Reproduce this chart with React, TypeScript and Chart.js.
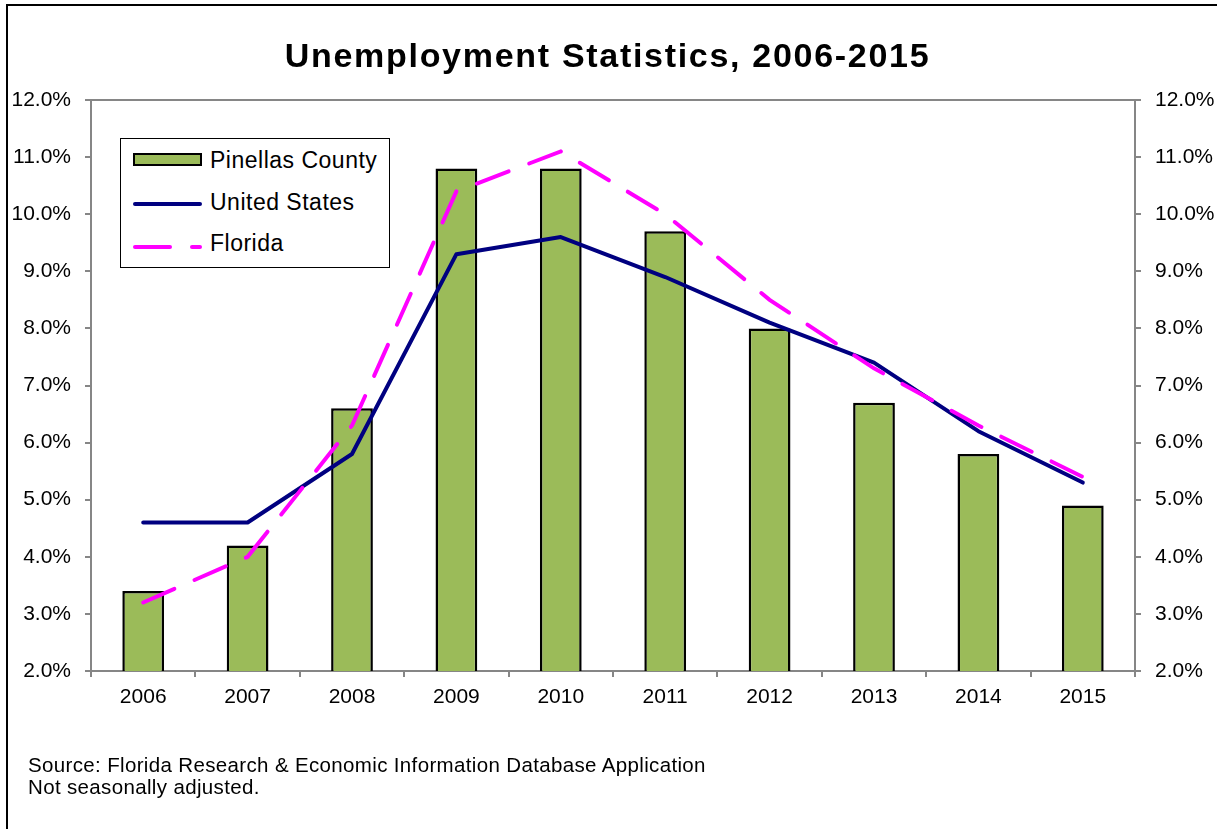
import React, { useEffect, useRef } from 'react';
import { Chart, registerables } from 'chart.js';

Chart.register(...registerables);

// ---- data ----
const years = ['2006', '2007', '2008', '2009', '2010', '2011', '2012', '2013', '2014', '2015'];
const pinellasCounty = [3.4, 4.2, 6.6, 10.8, 10.8, 9.7, 8.0, 6.7, 5.8, 4.9];
const unitedStates = [4.6, 4.6, 5.8, 9.3, 9.6, 8.9, 8.1, 7.4, 6.2, 5.3];
const florida = [3.2, 4.0, 6.3, 10.4, 11.1, 10.0, 8.5, 7.3, 6.3, 5.4];
const yTickLabels = ['2.0%', '3.0%', '4.0%', '5.0%', '6.0%', '7.0%', '8.0%', '9.0%', '10.0%', '11.0%', '12.0%'];
const yMin = 2;
const yMax = 12;

const titleText = 'Unemployment Statistics, 2006-2015';
const legendLabels = ['Pinellas County', 'United States', 'Florida'];
const sourceLines = ['Source: Florida Research & Economic Information Database Application', 'Not seasonally adjusted.'];

const FONT = "'Liberation Sans', Arial, Helvetica, sans-serif";
const AXIS_GRAY = '#868686';
const GREEN = '#9BBB59';
const NAVY = '#000080';
const MAGENTA = '#FF00FF';

const framePlugin = {
  id: 'frame',
  beforeDatasetsDraw(chart: any) {
    const { ctx, chartArea } = chart;
    ctx.save();
    ctx.strokeStyle = AXIS_GRAY;
    ctx.lineWidth = 2;
    ctx.strokeRect(chartArea.left, chartArea.top, chartArea.right - chartArea.left, chartArea.bottom - chartArea.top);
    ctx.restore();
  },
};

function tickLabel(v: any) {
  const i = Math.round(Number(v)) - yMin;
  return yTickLabels[i] ?? '';
}

export default function App() {
  const canvasRef = useRef<HTMLCanvasElement | null>(null);

  useEffect(() => {
    if (!canvasRef.current) return;
    const tickFont = { family: FONT, size: 21 };
    const yAxisCommon = {
      min: yMin,
      max: yMax,
      ticks: { stepSize: 1, padding: 14, color: '#000', font: tickFont, callback: tickLabel },
      grid: { drawOnChartArea: false, drawTicks: true, tickLength: 6, color: AXIS_GRAY, lineWidth: 2 },
      border: { color: AXIS_GRAY, width: 2 },
    };
    const chart = new Chart(canvasRef.current, {
      type: 'bar',
      data: {
        labels: years,
        datasets: [
          {
            type: 'line',
            label: legendLabels[2],
            data: florida,
            borderColor: MAGENTA,
            backgroundColor: MAGENTA,
            borderWidth: 4,
            borderDash: [34, 22],
            borderCapStyle: 'round',
            pointRadius: 0,
            fill: false,
            tension: 0,
            order: 1,
            yAxisID: 'y',
          },
          {
            type: 'line',
            label: legendLabels[1],
            data: unitedStates,
            borderColor: NAVY,
            backgroundColor: NAVY,
            borderWidth: 4,
            borderCapStyle: 'round',
            borderJoinStyle: 'round',
            pointRadius: 0,
            fill: false,
            tension: 0,
            order: 2,
            yAxisID: 'y',
          },
          {
            type: 'bar',
            label: legendLabels[0],
            data: pinellasCounty,
            backgroundColor: GREEN,
            borderColor: '#000',
            borderWidth: 2.5,
            barPercentage: 0.4,
            categoryPercentage: 1,
            order: 3,
            yAxisID: 'y',
          },
        ] as any,
      },
      options: {
        responsive: false,
        animation: false,
        events: [],
        layout: { padding: { top: 100, left: 0, right: 0, bottom: 118 } },
        plugins: {
          legend: { display: false },
          tooltip: { enabled: false },
          title: { display: false },
        },
        scales: {
          x: {
            offset: true,
            grid: { offset: true, drawOnChartArea: false, drawTicks: true, tickLength: 6, color: AXIS_GRAY, lineWidth: 2 },
            border: { color: AXIS_GRAY, width: 2 },
            ticks: { padding: 8, color: '#000', font: tickFont, maxRotation: 0 },
            afterFit: (s: any) => {
              s.height = 40;
            },
          },
          y: {
            position: 'left',
            ...yAxisCommon,
            afterFit: (s: any) => {
              s.width = 91;
            },
          },
          y2: {
            position: 'right',
            ...yAxisCommon,
            afterFit: (s: any) => {
              s.width = 82;
            },
          },
        } as any,
      },
      plugins: [framePlugin],
    });
    return () => chart.destroy();
  }, []);

  return (
    <div style={{ position: 'absolute', left: 0, top: 0, width: 1217, height: 829, overflow: 'hidden', background: '#fff', fontFamily: FONT }}>
      <div style={{ position: 'absolute', left: 6, top: 4, width: 1400, height: 1000, border: '2px solid #000', boxSizing: 'border-box' }} />
      <canvas ref={canvasRef} width={1217} height={829} style={{ position: 'absolute', left: 0, top: 0, width: 1217, height: 829 }} />
      <div style={{ position: 'absolute', left: 1, top: 38, width: 1213, textAlign: 'center', fontSize: 34, lineHeight: '34px', fontWeight: 'bold', letterSpacing: '1.7px', color: '#000', whiteSpace: 'nowrap' }}>
        {titleText}
      </div>
      {/* legend */}
      <div style={{ position: 'absolute', left: 120, top: 138, width: 270, height: 130, border: '1px solid #000', boxSizing: 'border-box', background: '#fff' }} />
      <div style={{ position: 'absolute', left: 133, top: 153, width: 69, height: 13, border: '2px solid #000', background: GREEN, boxSizing: 'border-box' }} />
      <div style={{ position: 'absolute', left: 133, top: 202, width: 69, height: 4, borderRadius: 2, background: NAVY }} />
      <div style={{ position: 'absolute', left: 133, top: 245, width: 39, height: 4, borderRadius: 2, background: MAGENTA }} />
      <div style={{ position: 'absolute', left: 190, top: 245, width: 12, height: 4, borderRadius: 2, background: MAGENTA }} />
      {legendLabels.map((t, i) => (
        <div key={t} style={{ position: 'absolute', left: 210, top: 149 + i * 41.7, fontSize: 23, lineHeight: '23px', letterSpacing: '0.5px', color: '#000', whiteSpace: 'nowrap' }}>
          {t}
        </div>
      ))}
      <div style={{ position: 'absolute', left: 28, top: 754, fontSize: 20.5, lineHeight: '22px', letterSpacing: '0.35px', color: '#000', whiteSpace: 'nowrap' }}>
        {sourceLines.map((l) => (
          <div key={l}>{l}</div>
        ))}
      </div>
    </div>
  );
}
